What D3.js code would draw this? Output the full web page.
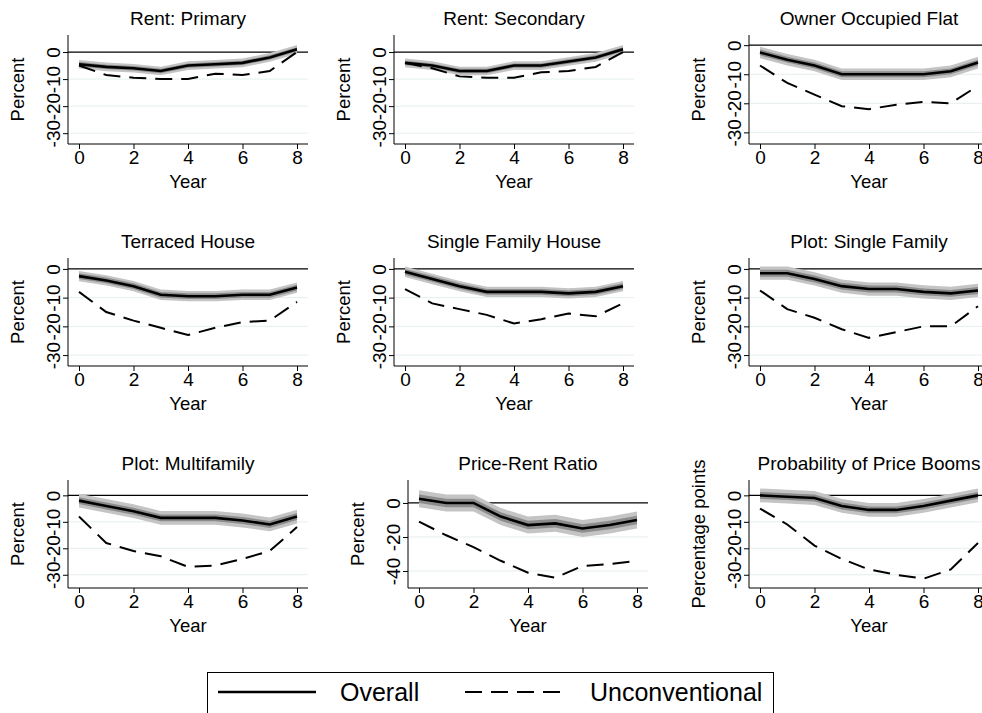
<!DOCTYPE html>
<html><head><meta charset="utf-8">
<script src="https://cdn.jsdelivr.net/npm/d3@7"></script>
<style>body{margin:0;background:#fff}text{font-family:"Liberation Sans",Arial,sans-serif}</style>
</head><body><svg id="c" width="982" height="713"></svg>
<script>
const years=[0,1,2,3,4,5,6,7,8];
const titles=["Rent: Primary","Rent: Secondary","Owner Occupied Flat","Terraced House","Single Family House","Plot: Single Family","Plot: Multifamily","Price-Rent Ratio","Probability of Price Booms"];
const yLabels=["Percent","Percent","Percent","Percent","Percent","Percent","Percent","Percent","Percentage points"];
const overall=[
[-4.5,-5.5,-6,-7,-5,-4.5,-4,-2,1],
[-4,-5,-7,-7,-5,-5,-3.5,-2,1],
[-2.5,-5,-7,-10,-10,-10,-10,-9,-6],
[-2.5,-4,-6,-9,-9.5,-9.5,-9,-9,-6.5],
[-1,-3.5,-6,-8,-8,-8,-8.5,-8,-6],
[-1.5,-1.5,-3.5,-6,-7,-7,-8,-8.5,-7.5],
[-2,-4,-6,-8.5,-8.5,-8.5,-9.5,-11,-8],
[2.5,0,0,-8,-13,-12,-15,-13,-10],
[0,-0.5,-1,-4,-5.5,-5.5,-4,-2,0]];
const unconventional=[
[-5,-8.5,-9.5,-10,-10,-8,-8.5,-7,0],
[-4,-6,-9,-9.5,-9.5,-7.5,-7,-5.5,0],
[-7,-13,-17,-21,-22,-20.5,-19.5,-20,-14],
[-8,-15,-18,-20.5,-23,-20.5,-18.5,-18,-11.5],
[-7,-12,-14,-16,-19,-17.5,-15.5,-16.5,-12],
[-7.5,-14,-17,-21,-24,-22,-20,-20,-13],
[-8,-18,-21,-23,-27,-26.5,-24,-21,-12],
[-11,-19,-26,-34,-41,-44,-37,-36,-34],
[-5,-11,-19,-24,-28,-30,-31.5,-28,-18]];
const bandInner=[0.8,0.8,1,1,1,1.2,1.3,2.5,1.3];
const bandOuter=[1.6,1.6,2,1.8,1.8,2.3,2.6,5,2.6];
const yTicks=[[0,-10,-20,-30],[0,-10,-20,-30],[0,-10,-20,-30],[0,-10,-20,-30],[0,-10,-20,-30],[0,-10,-20,-30],[0,-10,-20,-30],[0,-20,-40],[0,-10,-20,-30]];
const yDomains=[[-34,6.3],[-34,6.3],[-34,3.5],[-33.8,3.8],[-33.8,3.8],[-33.8,3.8],[-35,5.8],[-50,13.5],[-35,5.8]];
const xTicks=[0,2,4,6,8];

const x0s=[79,405,760,79,405,760,79,419,760];
const rowTop=[35,258,480], rowBot=[144,366,588];
const svg=d3.select("#c");
titles.forEach((t,i)=>{
  const r=Math.floor(i/3);
  const left=x0s[i]-11, right=x0s[i]+229;
  const x=d3.scaleLinear().domain([0,8]).range([x0s[i],x0s[i]+218]);
  const y=d3.scaleLinear().domain(yDomains[i]).range([rowBot[r],rowTop[r]]);
  const g=svg.append("g");
  yTicks[i].filter(v=>v!==0).forEach(v=>g.append("line").attr("x1",left).attr("x2",right).attr("y1",y(v)).attr("y2",y(v)).attr("stroke","#e6eef0").attr("stroke-width",1));
  g.append("line").attr("x1",left).attr("x2",right).attr("y1",y(0)).attr("y2",y(0)).attr("stroke","#000").attr("stroke-width",1.3);
  const area=h=>d3.area().x((d,j)=>x(years[j])).y0(d=>y(d-h)).y1(d=>y(d+h));
  g.append("path").attr("d",area(bandOuter[i])(overall[i])).attr("fill","#c4c4c4");
  g.append("path").attr("d",area(bandInner[i])(overall[i])).attr("fill","#8c8c8c");
  const line=d3.line().x((d,j)=>x(years[j])).y(d=>y(d));
  g.append("path").attr("d",line(unconventional[i])).attr("fill","none").attr("stroke","#000").attr("stroke-width",2).attr("stroke-dasharray","17,9");
  g.append("path").attr("d",line(overall[i])).attr("fill","none").attr("stroke","#000").attr("stroke-width",2.6);
  const ya=g.append("g").attr("transform",`translate(${left},0)`).call(d3.axisLeft(y).tickValues(yTicks[i]).tickSize(5).tickFormat(d=>String(d)));
  ya.selectAll("text").attr("transform","rotate(-90)").attr("x",0).attr("y",-8).attr("dy","0").attr("text-anchor","middle").attr("font-size",19).attr("fill","#000");
  ya.select(".domain").attr("d",`M-0,${rowTop[r]}V${rowBot[r]}`);
  const xa=g.append("g").attr("transform",`translate(0,${rowBot[r]})`).call(d3.axisBottom(x).tickValues(xTicks).tickSize(5));
  xa.select(".domain").attr("d",`M${left},0H${right}`);
  xa.selectAll("text").attr("font-size",19).attr("fill","#000").attr("y",7);
  svg.selectAll(".domain").attr("stroke","#000");
  g.append("text").attr("x",x(4)).attr("y",rowBot[r]+44).attr("text-anchor","middle").attr("font-size",18.5).text("Year");
  g.append("text").attr("x",(left+right)/2).attr("y",rowTop[r]-10).attr("text-anchor","middle").attr("font-size",19).text(t);
  g.append("text").attr("transform",`translate(${left-44},${(rowTop[r]+rowBot[r])/2}) rotate(-90)`).attr("text-anchor","middle").attr("font-size",18.5).text(yLabels[i]);
});
const lg=svg.append("g");
lg.append("rect").attr("x",207.5).attr("y",672.5).attr("width",566).attr("height",50).attr("fill","none").attr("stroke","#000");
lg.append("line").attr("x1",218).attr("x2",316).attr("y1",692).attr("y2",692).attr("stroke","#000").attr("stroke-width",2.6);
lg.append("text").attr("x",340).attr("y",701).attr("font-size",25).text("Overall");
lg.append("line").attr("x1",465).attr("x2",567).attr("y1",692).attr("y2",692).attr("stroke","#000").attr("stroke-width",2).attr("stroke-dasharray","17,9");
lg.append("text").attr("x",590).attr("y",701).attr("font-size",25).text("Unconventional");
</script></body></html>
